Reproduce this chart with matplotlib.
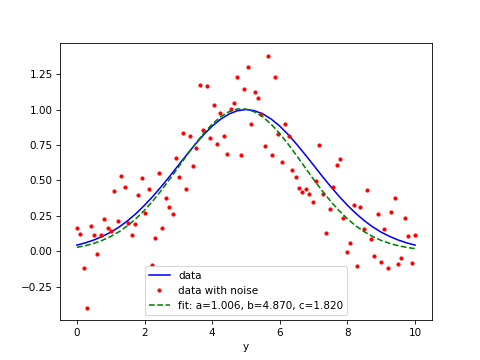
import matplotlib
matplotlib.use("Agg")
import matplotlib.pyplot as plt
import numpy as np

# Noisy samples, 100 points evenly spaced over 0..10
x_noise = np.linspace(0, 10, 100)
y_noise = [
    0.167, 0.122, -0.116, -0.398, 0.179, 0.115, -0.021, 0.115, 0.226, 0.167,
    0.143, 0.426, 0.214, 0.532, 0.456, 0.198, 0.115, 0.190, 0.398, 0.515,
    0.268, 0.440, -0.095, 0.092, 0.555, 0.162, 0.379, 0.315, 0.261, 0.661,
    0.522, 0.838, 0.438, 0.814, 0.602, 0.732, 1.174, 0.857, 1.167, 0.802,
    1.031, 0.756, 0.979, 0.814, 0.685, 1.003, 1.045, 1.231, 0.678, 1.144,
    1.297, 0.897, 1.125, 1.078, 0.970, 0.744, 1.379, 0.678, 1.231, 0.831,
    0.631, 0.901, 0.814, 0.572, 0.525, 0.445, 0.417, 0.438, 0.407, 0.348,
    0.494, 0.748, 0.407, 0.127, 0.297, 0.456, 0.607, 0.650, 0.237, -0.003,
    0.061, 0.327, -0.104, 0.315, 0.160, 0.433, 0.085, -0.033, 0.261, -0.073,
    0.155, -0.120, 0.278, 0.379, -0.092, -0.045, 0.237, 0.108, -0.080, 0.115,
]

# Smooth curves read at steps of 0.25
x_curve = np.linspace(0, 10, 41)
y_data = [
    0.044, 0.060, 0.080, 0.105, 0.135, 0.172, 0.216, 0.267, 0.325, 0.389,
    0.458, 0.531, 0.607, 0.682, 0.755, 0.823, 0.883, 0.932, 0.969, 0.992,
    1.000,
    0.992, 0.969, 0.932, 0.883, 0.823, 0.755, 0.682, 0.607, 0.531, 0.458,
    0.389, 0.325, 0.267, 0.216, 0.172, 0.135, 0.105, 0.080, 0.060, 0.044,
]
y_fit = [
    0.028, 0.040, 0.056, 0.078, 0.105, 0.139, 0.181, 0.232, 0.290, 0.357,
    0.431, 0.511, 0.593, 0.677, 0.758, 0.833, 0.897, 0.949, 0.985, 1.004,
    1.003, 0.984, 0.948, 0.895, 0.830, 0.755, 0.674, 0.590, 0.507, 0.428,
    0.354, 0.288, 0.229, 0.179, 0.138, 0.104, 0.077, 0.056, 0.040, 0.028,
    0.019,
]

fit_label = "fit: a=1.006, b=4.870, c=1.820"

fig, ax = plt.subplots(figsize=(6.4, 4.8), dpi=75)
ax.plot(x_curve, y_data, "b-", label="data")
ax.plot(x_noise, y_noise, "r.", label="data with noise")
ax.plot(x_curve, y_fit, "g--", label=fit_label)
ax.set_xlabel("y")
ax.legend(loc="lower center")

plt.savefig("out.png", dpi=75)
